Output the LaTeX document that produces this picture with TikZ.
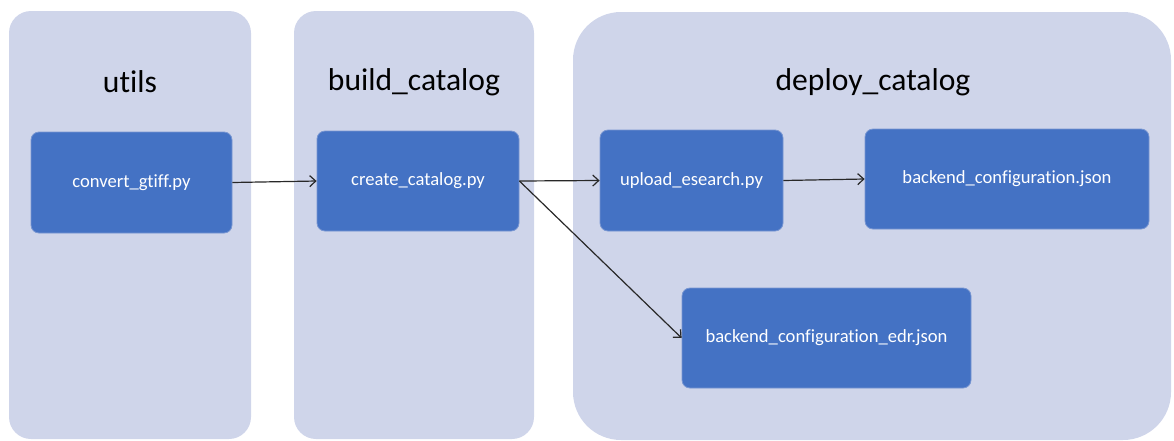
\documentclass[tikz,border=0pt]{standalone}
\usepackage{fontspec}
\setmainfont{Carlito}[Ligatures=NoCommon]
\usetikzlibrary{arrows.meta}
\definecolor{panelfill}{RGB}{207,213,234}
\definecolor{boxblue}{RGB}{68,114,196}
\definecolor{boxedge}{RGB}{120,150,210}
\definecolor{linkcol}{RGB}{40,40,40}
\tikzset{
  panel/.style={rectangle, fill=panelfill, draw=none, inner sep=0pt},
  paneltitle/.style={text=black, font=\fontsize{31.6}{36}\selectfont, inner sep=0pt},
  filebox/.style={rectangle, rounded corners=8pt, fill=boxblue, draw=boxedge, line width=0.8pt,
    text=white, font=\fontsize{18.6}{22}\selectfont, inner sep=0pt},
  link/.style={draw=linkcol, line width=1.2pt, -{Straight Barb[length=6pt,width=11pt,line width=1.2pt]}}
}
\begin{document}
\begin{tikzpicture}[x=1pt, y=-1pt]
  \useasboundingbox (0,0) rectangle (1174,440);

  % stage panels
  \node[panel, rounded corners=22pt, minimum width=242pt, minimum height=428pt] (pUtils) at (130,225) {};
  \node[panel, rounded corners=22pt, minimum width=240pt, minimum height=428pt] (pBuild) at (414,225) {};
  \node[panel, rounded corners=48pt, minimum width=598pt, minimum height=428pt] (pDeploy) at (872,226) {};

  % panel titles
  \node[paneltitle] (tUtils) at (130,82) {utils};
  \node[paneltitle] (tBuild) at (414,82) {build\_catalog};
  \node[paneltitle] (tDeploy) at (873,82) {deploy\_catalog};

  % files
  \node[filebox, minimum width=201pt, minimum height=101pt] (convert) at (131.5,182.5) {convert\_gtiff.py};
  \node[filebox, minimum width=202pt, minimum height=100pt] (create) at (418,181) {create\_catalog.py};
  \node[filebox, minimum width=183pt, minimum height=101pt] (upload) at (691.5,180.5) {upload\_esearch.py};
  \node[filebox, minimum width=284pt, minimum height=100pt] (backend) at (1007,179) {backend\_configuration.json};
  \node[filebox, minimum width=289pt, minimum height=100pt] (edr) at (826.5,338) {backend\_configuration\_edr.json};

  % data flow
  \draw[link] (convert.east) -- (create.west);
  \draw[link] (create.east) -- (upload.west);
  \draw[link] (upload.east) -- (backend.west);
  \draw[link] (create.east) -- (edr.west);
\end{tikzpicture}
\end{document}
